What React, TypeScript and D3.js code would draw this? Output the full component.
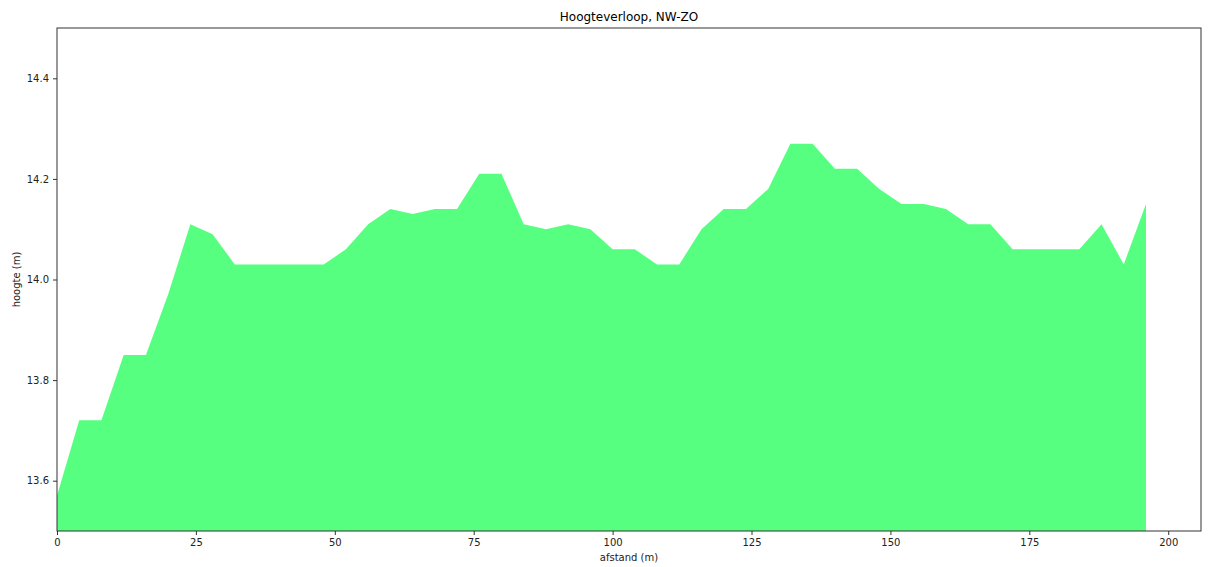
import { useEffect, useRef } from "react";
import * as d3 from "d3";

// afstand (m) en hoogte (m)
const distances = [
  0, 4, 8, 12, 16, 20, 24, 28, 32, 36, 40, 44, 48, 52, 56, 60, 64, 68, 72, 76,
  80, 84, 88, 92, 96, 100, 104, 108, 112, 116, 120, 124, 128, 132, 136, 140,
  144, 148, 152, 156, 160, 164, 168, 172, 176, 180, 184, 188, 192, 196,
];
const heights = [
  13.57, 13.72, 13.72, 13.85, 13.85, 13.97, 14.11, 14.09, 14.03, 14.03, 14.03,
  14.03, 14.03, 14.06, 14.11, 14.14, 14.13, 14.14, 14.14, 14.21, 14.21, 14.11,
  14.1, 14.11, 14.1, 14.06, 14.06, 14.03, 14.03, 14.1, 14.14, 14.14, 14.18,
  14.27, 14.27, 14.22, 14.22, 14.18, 14.15, 14.15, 14.14, 14.11, 14.11, 14.06,
  14.06, 14.06, 14.06, 14.11, 14.03, 14.15,
];
const xTicks = [0, 25, 50, 75, 100, 125, 150, 175, 200];
const yTicks = [13.6, 13.8, 14.0, 14.2, 14.4];

const title = "Hoogteverloop, NW-ZO";
const xLabel = "afstand (m)";
const yLabel = "hoogte (m)";

const W = 1214;
const H = 567;
const margin = { top: 28, right: 13, bottom: 36, left: 57 };
const FONT = "'DejaVu Sans', sans-serif";

export default function App() {
  const svgRef = useRef<SVGSVGElement>(null);

  useEffect(() => {
    document.body.style.margin = "0";
    if (!svgRef.current) return;
    const root = d3.select(svgRef.current);
    root.selectAll("*").remove();

    const innerW = W - margin.left - margin.right;
    const innerH = H - margin.top - margin.bottom;

    const x = d3.scaleLinear().domain([0, 205.9]).range([0, innerW]);
    const y = d3.scaleLinear().domain([13.5, 14.5]).range([innerH, 0]);

    const g = root.append("g").attr("transform", `translate(${margin.left},${margin.top})`);

    const data = distances.map((d, i) => ({ d, h: heights[i] }));
    const area = d3
      .area<{ d: number; h: number }>()
      .x((p) => x(p.d))
      .y0(innerH)
      .y1((p) => y(p.h));

    g.append("path")
      .datum(data)
      .attr("d", area)
      .attr("fill", "#57ff80");

    // Frame
    g.append("rect")
      .attr("width", innerW)
      .attr("height", innerH)
      .attr("fill", "none")
      .attr("stroke", "#333")
      .attr("stroke-width", 1);

    const xAxis = d3.axisBottom(x).tickValues(xTicks).tickSize(4).tickPadding(4).tickFormat((d) => String(d));
    const yAxis = d3
      .axisLeft(y)
      .tickValues(yTicks)
      .tickSize(4)
      .tickPadding(4)
      .tickFormat((d) => Number(d).toFixed(1));

    const gx = g.append("g").attr("transform", `translate(0,${innerH})`).call(xAxis);
    const gy = g.append("g").call(yAxis);
    [gx, gy].forEach((ax) => {
      ax.select(".domain").remove();
      ax.selectAll(".tick line").attr("stroke", "#333");
      ax.selectAll(".tick text").attr("fill", "#222").style("font-size", "10px").style("font-family", FONT);
    });

    root.append("text")
      .attr("x", margin.left + innerW / 2)
      .attr("y", 21)
      .attr("text-anchor", "middle")
      .style("font-size", "12px")
      .style("font-family", FONT)
      .attr("fill", "#000")
      .text(title);

    root.append("text")
      .attr("x", margin.left + innerW / 2)
      .attr("y", 561)
      .attr("text-anchor", "middle")
      .style("font-size", "10px")
      .style("font-family", FONT)
      .attr("fill", "#222")
      .text(xLabel);

    root.append("text")
      .attr("transform", `translate(20,${margin.top + innerH / 2}) rotate(-90)`)
      .attr("text-anchor", "middle")
      .style("font-size", "10px")
      .style("font-family", FONT)
      .attr("fill", "#222")
      .text(yLabel);
  }, []);

  return <svg ref={svgRef} width={W} height={H} style={{ display: "block", background: "#fff" }} />;
}
